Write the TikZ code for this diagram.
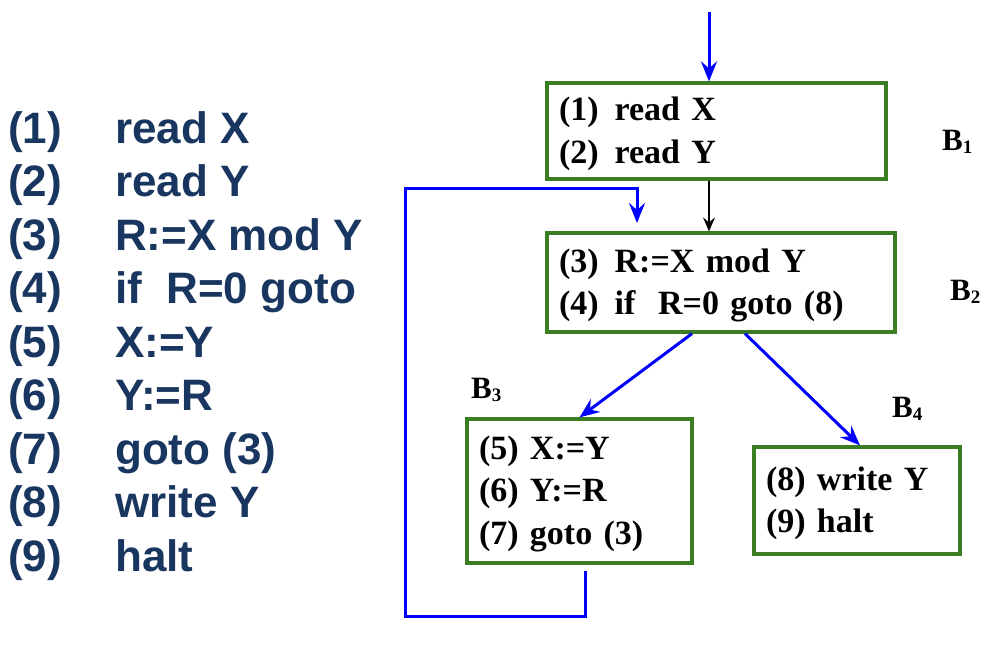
\documentclass[tikz,border=0pt]{standalone}
\usepackage{fontspec}
\setmainfont{Liberation Serif}
\newfontfamily\listfont{Liberation Sans}
\usetikzlibrary{arrows.meta}
\definecolor{listblue}{RGB}{24,54,96}
\definecolor{boxgreen}{RGB}{58,125,34}
\newcommand{\blk}[1]{B\raisebox{-3pt}{\fontsize{19}{19}\selectfont #1}}

\begin{document}
\begin{tikzpicture}[x=1pt, y=-1pt,
            box/.style = {draw=boxgreen, line width=3.2pt, align=left,
                inner xsep=12pt, font=\bfseries\fontsize{34}{42.5}\selectfont,
                execute at begin node=\rule{0pt}{29pt}},
            blabel/.style = {anchor=base west, inner sep=0pt,
                font=\bfseries\fontsize{31}{31}\selectfont},
            listitem/.style = {anchor=base west, inner sep=0pt, text=listblue,
                font=\listfont\bfseries\fontsize{44}{44}\selectfont},
            flow/.style = {blue, line width=3pt,
                -{Stealth[length=20pt, width=16pt, inset=7pt]}},
            seqarrow/.style = {black, line width=1.2pt,
                -{Stealth[length=14pt, width=12pt, inset=5pt]}}]
            \useasboundingbox (0,0) rectangle (990,653);
            \foreach \num/\stmt [count=\i] in {1/read X, 2/read Y, 3/R:=X mod Y,
                    4/{if\ \ R=0 goto}, 5/X:=Y, 6/Y:=R, 7/{goto (3)}, 8/write Y, 9/halt}{
                \node[listitem] (n\i) at (8, 89.5+53.5*\i) {(\num)};
                \node[listitem] (s\i) at (115, 89.5+53.5*\i) {\stmt};
            }
            \node[box, minimum width=339pt, minimum height=96pt, text width=315pt]
                (b1) at (716.5,131) {(1)\hspace{16pt}read X\\(2)\hspace{16pt}read Y};
            \node[box, minimum width=348pt, minimum height=99pt, text width=324pt]
                (b2) at (721,282.5) {(3)\hspace{16pt}R:=X mod Y\\(4)\hspace{16pt}if\ \ R=0 goto (8)};
            \node[box, minimum width=225pt, minimum height=144pt, text width=201pt]
                (b3) at (579.5,491) {(5) X:=Y\\(6) Y:=R\\(7) goto (3)};
            \node[box, minimum width=206pt, minimum height=107pt, text width=182pt]
                (b4) at (857,500.5) {(8) write Y\\(9) halt};
            \node[blabel] (l1) at (942,150) {\blk{1}};
            \node[blabel] (l2) at (950,300) {\blk{2}};
            \node[blabel] (l3) at (471,398) {\blk{3}};
            \node[blabel] (l4) at (892,417) {\blk{4}};
            \coordinate (entry) at (709,12);
            \coordinate (backout) at (585,571);
            \coordinate (backin) at (637,223);
            \path[flow]
                (entry) edge (entry |- b1.north)
                ([xshift=-29pt]b2.south) edge (b3.north)
                ([xshift=24pt]b2.south) edge ([xshift=3pt]b4.north);
            \draw[seqarrow] (entry |- b1.south) -- (entry |- b2.north);
            \draw[flow] (backout) |- (405,616) |- (637,188) -- (backin);
        \end{tikzpicture}
\end{document}
